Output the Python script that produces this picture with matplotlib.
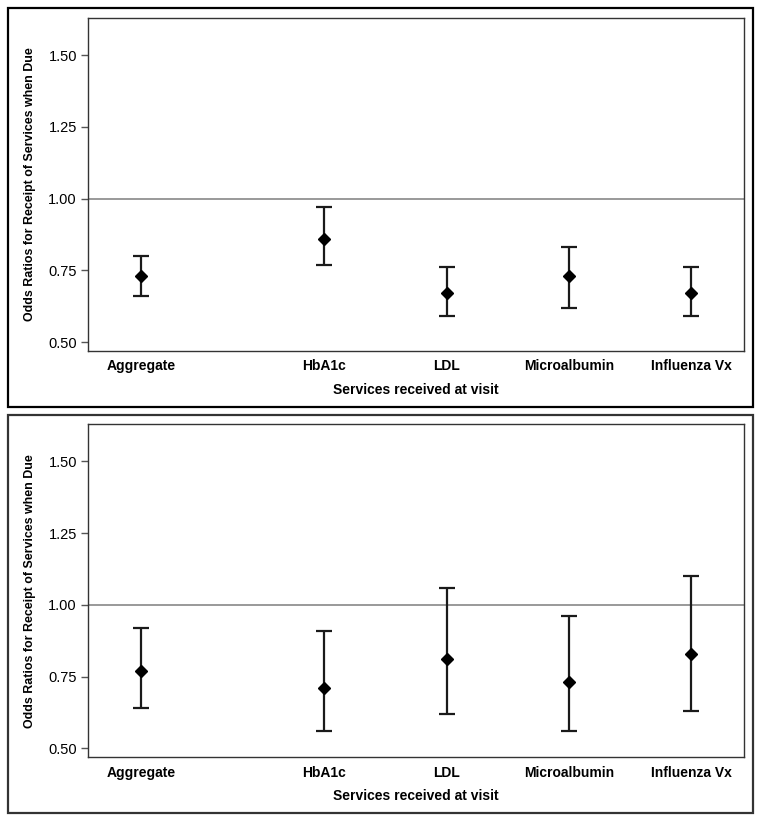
import matplotlib
matplotlib.use("Agg")
import matplotlib.pyplot as plt
from matplotlib.patches import Rectangle

plt.rcParams['font.family'] = ['Liberation Sans', 'DejaVu Sans']

# services on the x axis (Aggregate set apart from the rest)
services = ['Aggregate', 'HbA1c', 'LDL', 'Microalbumin', 'Influenza Vx']
positions = [0, 1.5, 2.5, 3.5, 4.5]

# top panel: odds ratios with 95% CI
or_top = [0.73, 0.86, 0.67, 0.73, 0.67]
lo_top = [0.66, 0.77, 0.59, 0.62, 0.59]
hi_top = [0.80, 0.97, 0.76, 0.83, 0.76]

# bottom panel
or_bot = [0.77, 0.71, 0.81, 0.73, 0.83]
lo_bot = [0.64, 0.56, 0.62, 0.56, 0.63]
hi_bot = [0.92, 0.91, 1.06, 0.96, 1.10]

yticks = [0.50, 0.75, 1.00, 1.25, 1.50]

W, H = 762, 822
fig = plt.figure(figsize=(W / 100, H / 100), dpi=100)


def frame(x0, y0, x1, y1, color):
    # outer box around each panel, given in pixels from top-left
    fig.patches.append(Rectangle((x0 / W, 1 - y1 / H), (x1 - x0) / W, (y1 - y0) / H,
                                 transform=fig.transFigure, fill=False,
                                 edgecolor=color, linewidth=1.6))


def panel(rect, ors, lo, hi):
    ax = fig.add_axes(rect)
    ax.axhline(1.0, color='#999999', linewidth=1.4, zorder=1)
    yerr = [[o - l for o, l in zip(ors, lo)], [h - o for o, h in zip(ors, hi)]]
    ax.errorbar(positions, ors, yerr=yerr, fmt='D', color='black', markersize=6.5,
                ecolor='#1a1a1a', elinewidth=1.6, capsize=6, capthick=1.6, zorder=3)
    ax.set_xlim(-0.434, 4.934)
    ax.set_ylim(0.469, 1.629)
    ax.set_yticks(yticks)
    ax.set_yticklabels(['%.2f' % v for v in yticks], fontsize=10.5)
    ax.set_xticks(positions)
    ax.set_xticklabels(services, fontsize=10, fontweight='bold')
    ax.tick_params(axis='x', length=0, pad=6)
    ax.tick_params(axis='y', length=5, width=1, color='#555555', pad=3)
    for s in ax.spines.values():
        s.set_color('#333333')
        s.set_linewidth(1)
    ax.set_xlabel('Services received at visit', fontsize=10, fontweight='bold', labelpad=7)
    ax.set_ylabel('Odds Ratios for Receipt of Services when Due', fontsize=8.9,
                  fontweight='bold', labelpad=9)
    return ax


frame(8, 8, 753, 407, 'black')
frame(8, 415, 753, 813, '#333333')

panel([88 / W, 1 - 351 / H, (744 - 88) / W, 333 / H], or_top, lo_top, hi_top)
panel([88 / W, 1 - 757.3 / H, (744 - 88) / W, 333 / H], or_bot, lo_bot, hi_bot)

fig.savefig('out.png', dpi=100)
